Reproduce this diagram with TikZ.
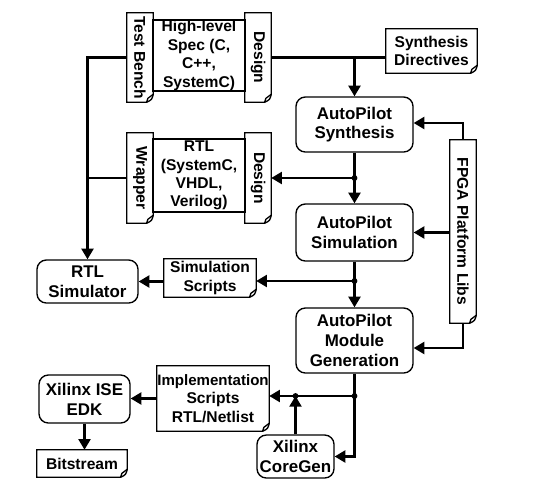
\documentclass[tikz,border=0pt]{standalone}
\usepackage{fontspec}
\setmainfont{Liberation Sans}
\usetikzlibrary{arrows.meta,calc}
\newcommand\docoutline[1]{%
  \draw[outl] (#1.south west) -- (#1.north west) -- (#1.north east)
    -- ([yshift=6pt]#1.south east)
    .. controls ([xshift=-1pt,yshift=2pt]#1.south east) .. ([xshift=-5pt]#1.south east)
    -- cycle;
  \draw[outl] ([yshift=6pt]#1.south east) -- ([xshift=-4pt,yshift=3pt]#1.south east) -- ([xshift=-5pt]#1.south east);}
\tikzset{
  sz/.style 2 args={minimum width=#1*0.75pt, minimum height=#2*0.75pt},
  lbl/.style={font=\bfseries\fontsize{12.7}{14.8}\selectfont, align=center, inner sep=0pt},
  small/.style={font=\bfseries\fontsize{11.7}{13.8}\selectfont},
  rbox/.style={lbl, draw, line width=1pt, rounded corners=7pt},
  pbox/.style={lbl, small, draw, line width=1pt},
  outl/.style={line width=1pt, line join=miter},
  wire/.style={line width=1.7pt},
  flow/.style={line width=1.7pt, -{Triangle[length=8pt,width=9pt]}},
  jdot/.style={fill=black},
}
\begin{document}
\begin{tikzpicture}[x=0.75pt,y=-0.75pt]
\useasboundingbox (0,0) rectangle (538,490);
% top spec group
\node[lbl, small, sz={26}{89}] (tb) at (140,57.5) {\rotatebox[origin=c]{-90}{Test Bench}};
\node[pbox, sz={92}{71}] (spec) at (199,55.5) {High-level\\Spec (C,\\C++,\\SystemC)};
\node[lbl, small, sz={26}{89}] (d1) at (258,57.5) {\rotatebox[origin=c]{-90}{Design}};
\docoutline{tb}
\docoutline{d1}
% synthesis directives
\node[lbl, small, sz={91}{44}] (sd) at (431.5,51) {Synthesis\\Directives};
\docoutline{sd}
% autopilot boxes
\node[rbox, sz={117}{55}] (syn) at (354.5,124.5) {AutoPilot\\Synthesis};
\node[rbox, sz={117}{57}] (sim) at (354.5,232.5) {AutoPilot\\Simulation};
\node[rbox, sz={117}{65}] (mg) at (354.5,340.5) {AutoPilot\\Module\\Generation};
% FPGA libs
\node[lbl, small, sz={26}{183}] (fpga) at (463,231.5) {\rotatebox[origin=c]{-90}{FPGA Platform Libs}};
\docoutline{fpga}
% RTL group
\node[lbl, small, sz={26}{90}] (wr) at (140,178) {\rotatebox[origin=c]{-90}{Wrapper}};
\node[pbox, sz={92}{73}] (rtl) at (199,175.5) {RTL\\(SystemC,\\VHDL,\\Verilog)};
\node[lbl, small, sz={26}{90}] (d2) at (258,178) {\rotatebox[origin=c]{-90}{Design}};
\docoutline{wr}
\docoutline{d2}
% RTL simulator and sim scripts
\node[rbox, sz={101}{43}] (rsim) at (87.5,281.5) {RTL\\Simulator};
\node[lbl, small, sz={92}{38}] (ss) at (210,278) {Simulation\\Scripts};
\docoutline{ss}
% bottom
\node[rbox, sz={91}{48}] (ise) at (84.5,399) {Xilinx ISE\\EDK};
\node[lbl, small, sz={90}{27}] (bit) at (82,463.5) {Bitstream};
\docoutline{bit}
\node[lbl, small, sz={112}{65}] (impl) at (213,398.5) {\fontsize{11.3}{13.8}\selectfont Implementation\\Scripts\\RTL/Netlist};
\docoutline{impl}
\node[rbox, sz={77}{43}] (cg) at (295.5,456.5) {Xilinx\\CoreGen};
% junction coordinates
\coordinate (j0) at (d1.east -| syn.north);
\coordinate (j2) at (syn.south |- d2.east);
\coordinate (j3) at (354.5,281);
\coordinate (j4) at (354.5,396);
\coordinate (j5) at (cg.north |- j4);
% connectors
\draw[flow] (tb.west) -| (rsim.north);
\draw[wire] (wr.west) -- (wr.west -| rsim.north);
\draw[wire] (d1.east) -- (d1.east -| sd.west);
\draw[flow] (j0) -- (syn.north);
\draw[flow] (fpga.north) |- ($(syn.east)+(0,-1.5)$);
\draw[flow] (sim.east -| fpga.west) -- (sim.east);
\draw[flow] (fpga.south) |- ($(mg.east)+(0,7.5)$);
\draw[flow] (syn.south) -- (sim.north);
\draw[flow] (j2) -- (d2.east);
\draw[flow] (sim.south) -- (mg.north);
\draw[flow] (j3) -- (j3 -| ss.east);
\draw[flow] (rsim.east -| ss.west) -- (rsim.east);
\draw[flow] (mg.south) |- (cg.east);
\draw[flow] (j4) -- (j4 -| impl.east);
\draw[flow] (cg.north) -- (j5);
\draw[flow] (impl.west) -- (impl.west -| ise.east);
\draw[flow] (ise.south) -- (ise.south |- bit.north);
\fill[jdot] (j2) circle (2.2pt);
\fill[jdot] (j3) circle (2.2pt);
\fill[jdot] (j4) circle (2.2pt);
\fill[jdot] (j5) circle (2.2pt);
\end{tikzpicture}
\end{document}
